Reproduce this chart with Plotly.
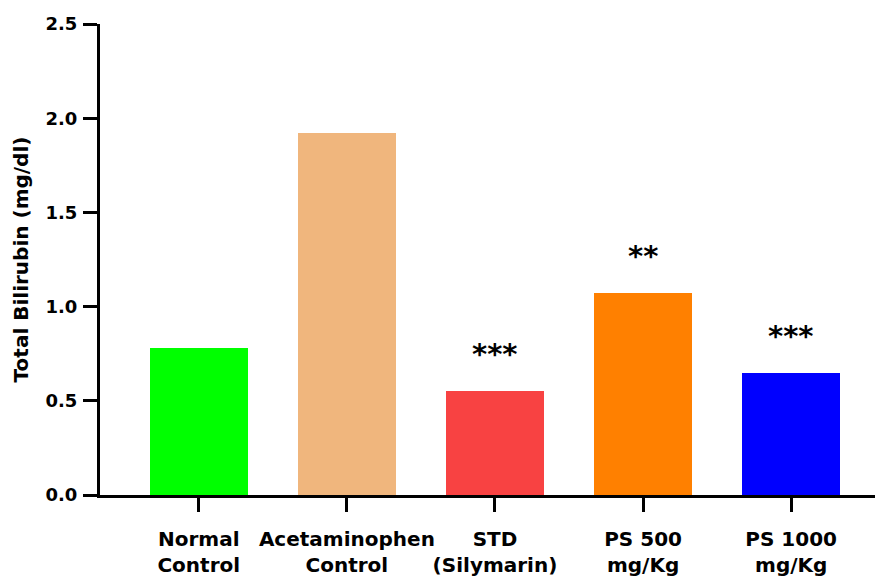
import plotly.graph_objects as go

categories = ["Normal<br>Control", "Acetaminophen<br>Control", "STD<br>(Silymarin)", "PS 500<br>mg/Kg", "PS 1000<br>mg/Kg"]
values = [0.78, 1.92, 0.55, 1.07, 0.65]
significance = ["", "", "***", "**", "***"]
colors = ["#00FF00", "#F0B67D", "#F84242", "#FF8000", "#0000FF"]
y_ticks = [0.0, 0.5, 1.0, 1.5, 2.0, 2.5]
y_tick_labels = ["0.0", "0.5", "1.0", "1.5", "2.0", "2.5"]

FONT = "DejaVu Sans"

fig = go.Figure()
fig.add_trace(go.Bar(
    x=list(range(len(categories))),
    y=values,
    marker=dict(color=colors, line=dict(width=0)),
    width=0.66,
))

for i, (v, s) in enumerate(zip(values, significance)):
    if s:
        fig.add_annotation(
            x=i, y=v, text=s, showarrow=False,
            xanchor="center", yanchor="middle", yshift=37,
            font=dict(family=FONT, size=29, color="black", weight="bold"),
        )

fig.update_layout(
    width=883, height=579,
    margin=dict(l=92, r=8, t=16, b=92),
    plot_bgcolor="white", paper_bgcolor="white",
    showlegend=False,
    bargap=0,
)
fig.update_xaxes(
    range=[-0.667, 4.62],
    tickmode="array",
    tickvals=list(range(len(categories))),
    ticktext=categories,
    tickangle=0,
    automargin=False,
    ticklabelstandoff=10,
    ticks="outside", ticklen=14, tickwidth=3, tickcolor="black",
    showline=True, linewidth=3, linecolor="black",
    showgrid=False, zeroline=False,
    tickfont=dict(family=FONT, size=20, color="black", weight="bold"),
)
fig.update_yaxes(
    range=[0, 2.5],
    tickmode="array",
    tickvals=y_ticks,
    ticktext=y_tick_labels,
    automargin=False,
    ticklabelstandoff=2,
    ticks="outside", ticklen=14, tickwidth=3, tickcolor="black",
    showline=True, linewidth=3, linecolor="black",
    showgrid=False, zeroline=False,
    tickfont=dict(family=FONT, size=18, color="black", weight="bold"),
    title=dict(text="Total Bilirubin (mg/dl)", standoff=12,
               font=dict(family=FONT, size=20, color="black", weight="bold")),
)

fig.write_html("out.html")
